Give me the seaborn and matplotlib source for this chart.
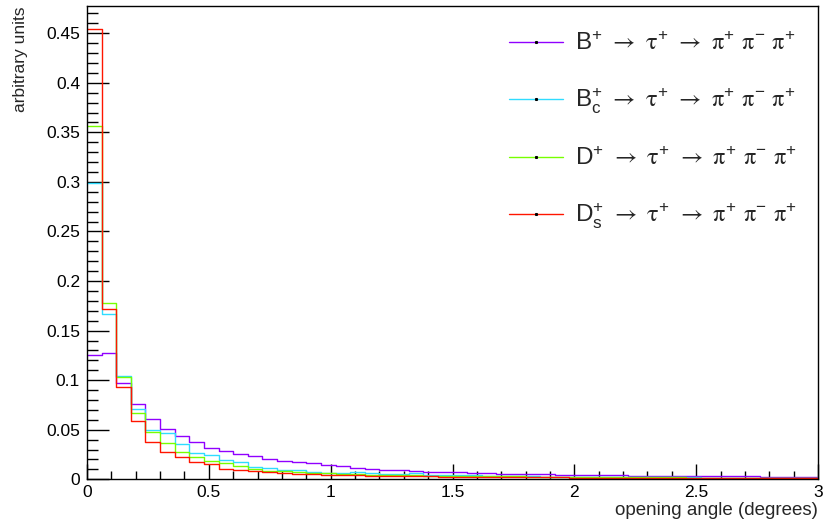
import numpy as np
import pandas as pd
import seaborn as sns
import matplotlib
matplotlib.use("Agg")
import matplotlib.pyplot as plt
from matplotlib.lines import Line2D
from matplotlib.ticker import MultipleLocator, FormatStrFormatter

# ---------------- data (50 bins, 0..3 degrees) ----------------
n_bins = 50
x_range = (0.0, 3.0)

b_plus = [0.125, 0.127, 0.097, 0.076, 0.061, 0.051, 0.0435, 0.0372, 0.032, 0.0285,
          0.0257, 0.0235, 0.0205, 0.0187, 0.0171, 0.0161, 0.0144, 0.0134, 0.0118, 0.0104,
          0.0097, 0.0091, 0.0084, 0.0078, 0.0077, 0.0071, 0.0066, 0.0061, 0.0057, 0.0054,
          0.0051, 0.0049, 0.0047, 0.0045, 0.0043, 0.0041, 0.0039, 0.0037, 0.0036, 0.0035,
          0.0034, 0.0033, 0.0032, 0.0031, 0.0030, 0.0029, 0.0028, 0.0027, 0.0027, 0.0026]

bc_plus = [0.299, 0.167, 0.1045, 0.0706, 0.050, 0.0464, 0.036, 0.027, 0.025, 0.019,
           0.017, 0.0125, 0.011, 0.0095, 0.009, 0.0075, 0.006, 0.006, 0.007, 0.0065,
           0.0055, 0.005, 0.006, 0.0045, 0.0045, 0.0048, 0.004, 0.0035, 0.0035, 0.003,
           0.003, 0.0028, 0.0027, 0.0026, 0.0025, 0.0024, 0.0023, 0.0022, 0.0021, 0.002,
           0.002, 0.0019, 0.0018, 0.0018, 0.0017, 0.0017, 0.0016, 0.0016, 0.0015, 0.0015]

d_plus = [0.356, 0.178, 0.1028, 0.0672, 0.048, 0.0363, 0.028, 0.0222, 0.0188, 0.0161,
          0.0134, 0.0104, 0.0087, 0.008, 0.0072, 0.0065, 0.006, 0.0055, 0.005, 0.0047,
          0.0044, 0.0042, 0.004, 0.0038, 0.0036, 0.0034, 0.0032, 0.0031, 0.003, 0.0029,
          0.0028, 0.0027, 0.0026, 0.0025, 0.0024, 0.0023, 0.0022, 0.0021, 0.002, 0.002,
          0.0019, 0.0018, 0.0018, 0.0017, 0.0017, 0.0016, 0.0016, 0.0015, 0.0015, 0.0015]

ds_plus = [0.454, 0.172, 0.0934, 0.0591, 0.038, 0.0272, 0.0228, 0.0171, 0.0151, 0.0104,
           0.0094, 0.0084, 0.0071, 0.006, 0.0055, 0.005, 0.0045, 0.0042, 0.004, 0.0038,
           0.0035, 0.0033, 0.0031, 0.003, 0.0028, 0.0026, 0.0025, 0.0024, 0.0023, 0.0022,
           0.0021, 0.002, 0.0019, 0.0018, 0.0018, 0.0017, 0.0016, 0.0016, 0.0015, 0.0015,
           0.0014, 0.0014, 0.0013, 0.0013, 0.0012, 0.0012, 0.0012, 0.0011, 0.0011, 0.0011]

_tail = (r" $\rightarrow$ $\mathrm{\tau}^{\mathregular{+}}$ $\rightarrow$ "
         r"$\mathrm{\pi}^{\mathregular{+}}$ $\mathrm{\pi}^{\mathregular{-}}$ $\mathrm{\pi}^{\mathregular{+}}$")
series_labels = [
    r"B$^{\mathregular{+}}$" + _tail,
    r"B$^{\mathregular{+}}_{\mathregular{c}}$" + _tail,
    r"D$^{\mathregular{+}}$" + _tail,
    r"D$^{\mathregular{+}}_{\mathregular{s}}$" + _tail,
]
series_values = [b_plus, bc_plus, d_plus, ds_plus]
series_colors = ["#9000ff", "#2fdcff", "#77ff00", "#ff1500"]

x_ticks = [0, 0.5, 1, 1.5, 2, 2.5, 3]
y_ticks = [0, 0.05, 0.1, 0.15, 0.2, 0.25, 0.3, 0.35, 0.4, 0.45]

# ---------------- style ----------------
sns.set_theme(style="white")
plt.rcParams["font.family"] = ["Liberation Sans", "DejaVu Sans"]
plt.rcParams["mathtext.fontset"] = "stix"

fig = plt.figure(figsize=(8.23, 5.27), dpi=100)
ax = fig.add_axes([87 / 823, 1 - 479.3 / 527, (818 - 87) / 823, (479.3 - 6) / 527])

width = (x_range[1] - x_range[0]) / n_bins
centers = x_range[0] + width * (np.arange(n_bins) + 0.5)
for vals, col in zip(series_values, series_colors):
    df = pd.DataFrame({"angle": centers, "w": np.asarray(vals, dtype=float)})
    sns.histplot(data=df, x="angle", weights="w", bins=n_bins, binrange=x_range,
                 element="step", fill=False, color=col, linewidth=1.0, ax=ax)

ax.set_xlim(0, 3)
ax.set_ylim(0, 0.4775)
ax.set_xticks(x_ticks)
ax.set_yticks(y_ticks)
ax.xaxis.set_major_formatter(FormatStrFormatter("%g"))
ax.yaxis.set_major_formatter(FormatStrFormatter("%g"))
ax.xaxis.set_minor_locator(MultipleLocator(0.1))
ax.yaxis.set_minor_locator(MultipleLocator(0.01))
ax.tick_params(which="both", direction="in", bottom=True, left=True, top=False, right=False,
               colors="black", labelsize=12.5, width=1.0)
ax.tick_params(axis="x", which="major", length=11, pad=4)
ax.tick_params(axis="x", which="minor", length=5.5)
ax.tick_params(axis="y", which="major", length=16, pad=5)
ax.tick_params(axis="y", which="minor", length=8)
for sp in ax.spines.values():
    sp.set_visible(True)
    sp.set_color("black")
    sp.set_linewidth(1.0)

ax.set_xlabel("opening angle (degrees)", fontsize=13.5, loc="right")
ax.xaxis.set_label_coords(1.0, -0.048)
ax.set_ylabel("arbitrary units", fontsize=12.5, loc="top")
ax.yaxis.set_label_coords(-0.081, 1.0)

handles = [Line2D([0], [0], color=c, lw=1.0, marker="s", markersize=1.2,
                  markerfacecolor="black", markeredgecolor="black") for c in series_colors]
leg = ax.legend(handles, series_labels, loc="upper right", bbox_to_anchor=(0.985, 0.964),
                frameon=False, fontsize=17.5, handlelength=2.22, handletextpad=0.49,
                labelspacing=1.3, borderaxespad=0.0)

fig.savefig("out.png", dpi=100)
